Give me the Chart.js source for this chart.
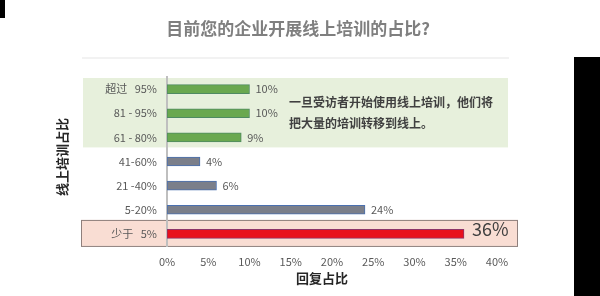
<!DOCTYPE html>
<html>
<head>
<meta charset="utf-8">
<script src="https://cdn.jsdelivr.net/npm/chart.js"></script>
<style>
  body { margin: 0; background: #fff; }
  #wrap { width: 600px; height: 296px; }
</style>
</head>
<body>
<div id="wrap"><canvas id="shareChart" width="600" height="296"></canvas></div>
<script>
// data
var categories = ['超过   95%', '81 - 95%', '61 - 80%', '41-60%', '21 -40%', '5-20%', '少于   5%'];
var shares = [10, 10, 9, 4, 6, 24, 36];
var xTicks = [0, 5, 10, 15, 20, 25, 30, 35, 40];

var barFill = ['#6aa84f', '#6aa84f', '#6aa84f', '#7b7f8a', '#7b7f8a', '#7b7f8a', '#e8101c'];
var barLine = ['#4f8a62', '#4f8a62', '#4f8a62', '#4a70b0', '#4a70b0', '#4a70b0', '#8e3468'];

var FONT = '"Noto Sans CJK SC", "Noto Sans", sans-serif';

// boxes, titles, labels
var decor = {
    id: 'decor',
    beforeDraw: function (chart) {
        var c = chart.ctx;
        var y = chart.scales.y;
        var step = y.getPixelForValue(1) - y.getPixelForValue(0);
        c.save();
        c.fillStyle = '#ffffff';
        c.fillRect(0, 0, chart.width, chart.height);
        // black edges
        c.fillStyle = '#000';
        c.fillRect(0, 0, 5, 18);
        c.fillRect(574, 57, 26, 239);
        // faint rule under title
        c.fillStyle = '#f2f2f2';
        c.fillRect(82, 57, 427, 2);
        // title
        c.fillStyle = '#7f7f7f';
        c.font = 'bold 17px ' + FONT;
        c.textAlign = 'center';
        c.textBaseline = 'middle';
        c.fillText('目前您的企业开展线上培训的占比?', 298, 29);
        // green box
        var gTop = y.getPixelForValue(0) - step / 2 + 1;
        var gBot = y.getPixelForValue(2) + step / 2 - 2;
        c.fillStyle = '#e7f0dc';
        c.fillRect(83, gTop, 425, gBot - gTop);
        // red box
        var rTop = y.getPixelForValue(6) - 14;
        var rBot = y.getPixelForValue(6) + 12;
        c.fillStyle = '#f9ddd3';
        c.fillRect(81, rTop, 437, rBot - rTop);
        c.strokeStyle = '#8f7f7c';
        c.lineWidth = 1;
        c.strokeRect(81.5, rTop + 0.5, 436, rBot - rTop);
        // annotation
        c.fillStyle = '#404040';
        c.font = 'bold 12px ' + FONT;
        c.textAlign = 'left';
        c.fillText('一旦受访者开始使用线上培训，他们将', 289, 102);
        c.fillText('把大量的培训转移到线上。', 289, 123);
        // axis titles
        c.fillStyle = '#262626';
        c.font = 'bold 13px ' + FONT;
        c.textAlign = 'center';
        c.fillText('回复占比', 322, 278);
        c.translate(62, 157);
        c.rotate(-Math.PI / 2);
        c.fillText('线上培训占比', 0, 0);
        c.restore();
    },
    afterDatasetsDraw: function (chart) {
        var c = chart.ctx;
        var meta = chart.getDatasetMeta(0);
        c.save();
        c.textAlign = 'left';
        c.textBaseline = 'middle';
        meta.data.forEach(function (bar, i) {
            var last = i === shares.length - 1;
            c.fillStyle = last ? '#404040' : '#595959';
            c.font = (last ? '18px ' : '11px ') + FONT;
            c.fillText(shares[i] + '%', bar.x + (last ? 8 : 6), bar.y + (last ? -5 : 0));
        });
        c.restore();
    }
};

var ctx = document.getElementById('shareChart').getContext('2d');
var shareChart = new Chart(ctx, {
    type: 'bar',
    data: {
        labels: categories,
        datasets: [{
            data: shares,
            backgroundColor: barFill,
            borderColor: barLine,
            borderWidth: 1,
            borderSkipped: false,
            barThickness: 9
        }]
    },
    options: {
        indexAxis: 'y',
        responsive: false,
        animation: false,
        layout: { padding: { top: 77, right: 103, left: 0, bottom: 0 } },
        plugins: {
            legend: { display: false },
            tooltip: { enabled: false }
        },
        scales: {
            x: {
                min: 0,
                max: 40,
                afterFit: function (s) { s.height = 50; },
                afterBuildTicks: function (s) {
                    s.ticks = xTicks.map(function (v) { return { value: v }; });
                },
                grid: { display: false, drawTicks: false },
                border: { display: false },
                ticks: {
                    padding: 9,
                    color: '#595959',
                    font: { family: FONT, size: 11 },
                    callback: function (v) { return v + '%'; }
                }
            },
            y: {
                afterFit: function (s) { s.width = 167; },
                grid: { display: false, drawTicks: false },
                border: { display: true, color: '#bfbfbf', width: 2 },
                ticks: {
                    padding: 10,
                    color: '#595959',
                    font: { family: FONT, size: 11 }
                }
            }
        }
    },
    plugins: [decor]
});
</script>
</body>
</html>
